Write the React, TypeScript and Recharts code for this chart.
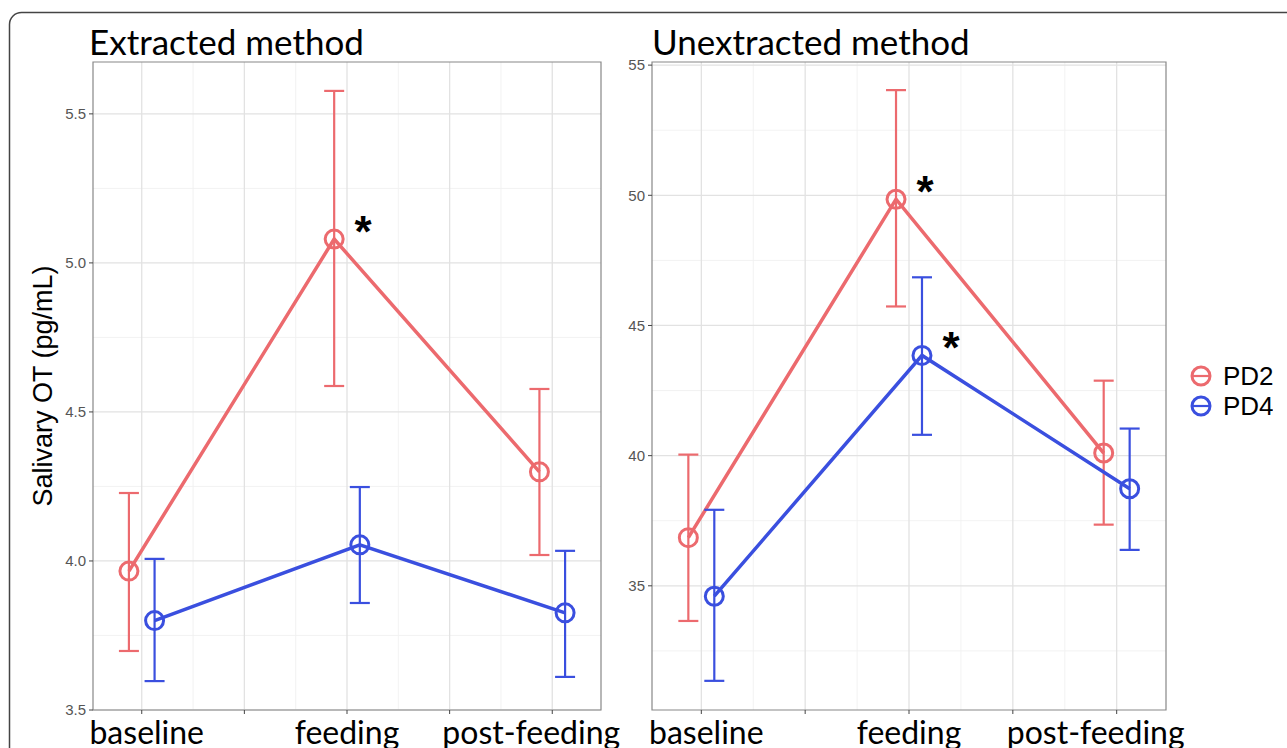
import React from 'react';
import {
  ComposedChart,
  Line,
  XAxis,
  YAxis,
  CartesianGrid,
  ErrorBar,
  LabelList,
  ReferenceArea,
  Legend,
} from 'recharts';

// ---------- data ----------
const categories = ['baseline', 'feeding', 'post-feeding'];
const categoryPositions = [1, 2, 3];
const xTicks = [1, 1.5, 2, 2.5, 3];
const xMinor = [1.25, 1.75, 2.25, 2.75];
const xDomain = [0.7625, 3.2375];
const dodge = 0.0625;
const seriesNames = ['PD2', 'PD4'];
const seriesColors = ['#EC6A6E', '#3A4FDF'];

// Extracted method
const extPD2Mean = [3.966, 5.08, 4.299];
const extPD2Low = [3.698, 4.587, 4.02];
const extPD2High = [4.228, 5.577, 4.577];
const extPD2Star = ['', '*', ''];
const extPD4Mean = [3.8, 4.054, 3.826];
const extPD4Low = [3.597, 3.859, 3.611];
const extPD4High = [4.007, 4.248, 4.034];
const extPD4Star = ['', '', ''];
const extYTicks = [3.5, 4.0, 4.5, 5.0, 5.5];
const extYMinor = [3.75, 4.25, 4.75, 5.25];
const extYDomain = [3.5, 5.674];

// Unextracted method
const unPD2Mean = [36.85, 49.85, 40.1];
const unPD2Low = [33.65, 45.73, 37.35];
const unPD2High = [40.04, 54.04, 42.88];
const unPD2Star = ['', '*', ''];
const unPD4Mean = [34.6, 43.85, 38.73];
const unPD4Low = [31.35, 40.8, 36.38];
const unPD4High = [37.92, 46.85, 41.04];
const unPD4Star = ['', '*', ''];
const unYTicks = [35, 40, 45, 50, 55];
const unYMinor = [32.5, 37.5, 42.5, 47.5, 52.5];
const unYDomain = [30.23, 55.12];

const titles = ['Extracted method', 'Unextracted method'];
const yLabel = 'Salivary OT (pg/mL)';

// ---------- helpers ----------
const makeRows = (mean: number[], low: number[], high: number[], star: string[], shift: number) =>
  mean.map((m, i) => ({
    x: categoryPositions[i] + shift,
    y: m,
    err: [m - low[i], high[i] - m],
    star: star[i],
  }));

const labelShift = [5, 0, -21];

const XTick = (props: any) => {
  const { x, y, payload } = props;
  const idx = categoryPositions.indexOf(payload.value);
  if (idx < 0) return <g />;
  return (
    <text
      x={x + labelShift[idx]}
      y={y}
      dy={28}
      textAnchor="middle"
      fontFamily="Lato"
      fontSize={32}
      fill="#000"
    >
      {categories[idx]}
    </text>
  );
};

const Star = (props: any) => {
  const { x, y, value } = props;
  if (!value) return null;
  return (
    <text x={x + 29} y={y + 8} textAnchor="middle" fontFamily="Liberation Sans" fontWeight="bold" fontSize={44} fill="#000">
      {value}
    </text>
  );
};

const LegendContent = (props: any) => {
  const { payload } = props;
  return (
    <svg width={107} height={62}>
      {(payload || []).map((p: any, i: number) => (
        <g key={p.value}>
          <circle cx={35} cy={14 + i * 30} r={9} fill="none" stroke={p.color} strokeWidth={3} />
          <line x1={26} x2={44} y1={14 + i * 30} y2={14 + i * 30} stroke={p.color} strokeWidth={2.2} />
          <text x={57} y={14 + i * 30 + 9} fontFamily="Liberation Sans" fontSize={26} fill="#000">
            {p.value}
          </text>
        </g>
      ))}
    </svg>
  );
};

const tickStyle = { fontFamily: 'Liberation Sans', fontSize: 15, fill: '#555' };

type PanelProps = {
  rowsA: any[];
  rowsB: any[];
  yTicks: number[];
  yMinor: number[];
  yDomain: number[];
  width: number;
  margin: any;
  showYLabel: boolean;
  showLegend: boolean;
  decimals: number;
};

const Panel = ({ rowsA, rowsB, yTicks, yMinor, yDomain, width, margin, showYLabel, showLegend, decimals }: PanelProps) => (
  <ComposedChart width={width} height={748} margin={margin}>
    <CartesianGrid stroke="#f0f0f0" strokeWidth={0.9} verticalValues={xMinor} horizontalValues={yMinor} />
    <CartesianGrid stroke="#e2e2e2" strokeWidth={1.3} verticalValues={xTicks} horizontalValues={yTicks} />
    <XAxis
      dataKey="x"
      type="number"
      domain={xDomain}
      ticks={xTicks}
      allowDataOverflow
      height={38}
      axisLine={false}
      tickLine={{ stroke: '#444' }}
      tickSize={4}
      tick={<XTick />}
      interval={0}
    />
    <YAxis
      type="number"
      domain={yDomain}
      ticks={yTicks}
      allowDataOverflow
      width={40}
      axisLine={false}
      tickLine={{ stroke: '#444' }}
      tickSize={4}
      tickMargin={3}
      tick={tickStyle}
      tickFormatter={(v: number) => v.toFixed(decimals)}
      interval={0}
      label={
        showYLabel
          ? {
              value: yLabel,
              angle: -90,
              position: 'center',
              dx: -31,
              style: { fontFamily: 'Liberation Sans', fontSize: 27, fill: '#000' },
            }
          : undefined
      }
    />
    <ReferenceArea
      x1={xDomain[0]}
      x2={xDomain[1]}
      y1={yDomain[0]}
      y2={yDomain[1]}
      fill="none"
      stroke="#888"
      strokeWidth={1.2}
      ifOverflow="visible"
    />
    <Line
      data={rowsA}
      dataKey="y"
      name={seriesNames[0]}
      stroke={seriesColors[0]}
      strokeWidth={3.5}
      dot={{ r: 9, strokeWidth: 3, fill: 'none', stroke: seriesColors[0] }}
      activeDot={false}
      isAnimationActive={false}
    >
      <ErrorBar dataKey="err" direction="y" width={10} strokeWidth={2.2} stroke={seriesColors[0]} />
      <LabelList dataKey="star" content={<Star />} />
    </Line>
    <Line
      data={rowsB}
      dataKey="y"
      name={seriesNames[1]}
      stroke={seriesColors[1]}
      strokeWidth={3.5}
      dot={{ r: 9, strokeWidth: 3, fill: 'none', stroke: seriesColors[1] }}
      activeDot={false}
      isAnimationActive={false}
    >
      <ErrorBar dataKey="err" direction="y" width={10} strokeWidth={2.2} stroke={seriesColors[1]} />
      <LabelList dataKey="star" content={<Star />} />
    </Line>
    {showLegend && (
      <Legend
        layout="vertical"
        align="right"
        verticalAlign="middle"
        width={107}
        wrapperStyle={{ top: 362 }}
        content={<LegendContent />}
      />
    )}
  </ComposedChart>
);

export default function App() {
  const extA = makeRows(extPD2Mean, extPD2Low, extPD2High, extPD2Star, -dodge);
  const extB = makeRows(extPD4Mean, extPD4Low, extPD4High, extPD4Star, dodge);
  const unA = makeRows(unPD2Mean, unPD2Low, unPD2High, unPD2Star, -dodge);
  const unB = makeRows(unPD4Mean, unPD4Low, unPD4High, unPD4Star, dodge);
  return (
    <div style={{ position: 'absolute', left: 0, top: 0, width: 1287, height: 748, overflow: 'hidden', background: '#fff' }}>
      <svg width={1287} height={748} style={{ position: 'absolute', left: 0, top: 0 }}>
        <rect x={9.5} y={12.5} width={1320} height={800} rx={12} fill="none" stroke="#444" strokeWidth={1.5} />
        <text x={89} y={55} fontFamily="Lato" fontSize={35} fill="#000">
          {titles[0]}
        </text>
        <text x={652} y={55} fontFamily="Lato" fontSize={35} fill="#000">
          {titles[1]}
        </text>
      </svg>
      <div style={{ position: 'absolute', left: 0, top: 0 }}>
        <Panel
          rowsA={extA}
          rowsB={extB}
          yTicks={extYTicks}
          yMinor={extYMinor}
          yDomain={extYDomain}
          width={620}
          margin={{ top: 62, right: 19, bottom: 0, left: 53 }}
          showYLabel
          showLegend={false}
          decimals={1}
        />
      </div>
      <div style={{ position: 'absolute', left: 600, top: 0 }}>
        <Panel
          rowsA={unA}
          rowsB={unB}
          yTicks={unYTicks}
          yMinor={unYMinor}
          yDomain={unYDomain}
          width={687}
          margin={{ top: 62, right: 14, bottom: 0, left: 12 }}
          showYLabel={false}
          showLegend
          decimals={0}
        />
      </div>
    </div>
  );
}
